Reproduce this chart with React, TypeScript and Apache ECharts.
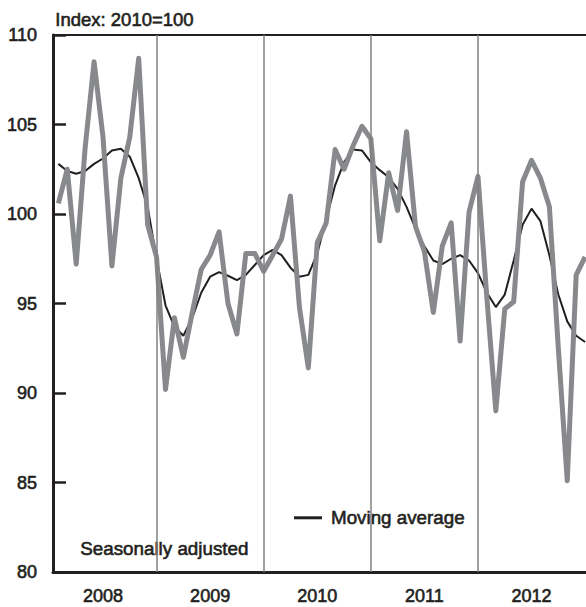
import React, { useEffect, useRef } from "react";
import * as echarts from "echarts";

// Monthly index, Jan 2008 .. Dec 2012 (2010 = 100)
const years = ["2008", "2009", "2010", "2011", "2012"];

const seasonallyAdjusted = [
  100.6, 102.5, 97.2, 103.7, 108.5, 104.3, 97.1, 102.0, 104.3, 108.7, 99.4, 97.6,
  90.2, 94.2, 92.0, 94.5, 96.9, 97.7, 99.0, 95.0, 93.3, 97.8, 97.8, 96.8,
  97.7, 98.6, 101.0, 94.8, 91.4, 98.4, 99.5, 103.6, 102.5, 103.8, 104.9, 104.2,
  98.5, 102.3, 100.2, 104.6, 99.3, 97.9, 94.5, 98.2, 99.5, 92.9, 100.1, 102.1,
  95.3, 89.0, 94.7, 95.1, 101.8, 103.0, 102.0, 100.4, 92.5, 85.1, 96.6, 97.6,
];

const movingAverage = [
  102.8, 102.4, 102.25, 102.4, 102.8, 103.1, 103.55, 103.65, 103.2, 102.0, 100.4, 97.5,
  94.9, 93.7, 93.2, 94.2, 95.6, 96.5, 96.75, 96.55, 96.3, 96.6, 97.15, 97.7,
  98.0, 97.7, 97.0, 96.5, 96.6, 97.8, 99.7, 101.6, 102.9, 103.6, 103.55, 102.9,
  102.45, 102.05, 101.4, 100.4, 99.2, 98.2, 97.4, 97.2, 97.5, 97.7, 97.4, 96.7,
  95.6, 94.8, 95.5, 97.4, 99.4, 100.3, 99.6, 97.7, 95.5, 94.0, 93.2, 92.85,
];

const yMin = 80;
const yMax = 110;
const yInterval = 5;

const yearEnds = [12, 24, 36, 48];
const yearMids = [6, 18, 30, 42, 54];

const FONT = "'Liberation Sans', Arial, Helvetica, sans-serif";
const INK = "#231f20";
const GRAY = "#88898c";
const TEXT_STROKE = 0.6;

export default function App() {
  const ref = useRef<HTMLDivElement>(null);

  useEffect(() => {
    if (!ref.current) return;
    const chart = echarts.init(ref.current, null, { renderer: "svg" });
    const toXY = (arr: number[]) => arr.map((v, i) => [i + 1, v]);
    const txt = {
      fontSize: 18,
      color: INK,
      fontFamily: FONT,
      textBorderColor: INK,
      textBorderWidth: TEXT_STROKE,
    };

    chart.setOption({
      animation: false,
      textStyle: { fontFamily: FONT },
      grid: { left: 53, right: 0, top: 35, bottom: 35, containLabel: false },
      xAxis: [
        {
          type: "value",
          min: 0.4,
          max: 60.1,
          axisLine: { show: true, onZero: false, lineStyle: { color: INK, width: 3 } },
          axisTick: { show: false },
          splitLine: { show: false },
          axisLabel: {
            customValues: yearMids,
            formatter: (v: number) => years[Math.round((v - 6) / 12)],
            margin: 15,
            ...txt,
          },
        },
        {
          type: "value",
          position: "top",
          min: 0.4,
          max: 60.1,
          axisLine: { show: true, onZero: false, lineStyle: { color: INK, width: 2 } },
          axisTick: { show: false },
          axisLabel: { show: false },
          splitLine: { show: false },
        },
      ],
      yAxis: {
        type: "value",
        min: yMin,
        max: yMax,
        interval: yInterval,
        axisLine: { show: true, lineStyle: { color: INK, width: 3 } },
        axisTick: { show: true, inside: true, length: 13, lineStyle: { color: INK, width: 2.5 } },
        splitLine: { show: false },
        axisLabel: { margin: 16, ...txt },
      },
      legend: {
        data: [{ name: "Moving average", icon: "rect" }],
        left: 289,
        top: 504,
        itemWidth: 28,
        itemHeight: 3,
        padding: [4, 6, 4, 5],
        backgroundColor: "#ffffff",
        selectedMode: false,
        textStyle: { ...txt, fontSize: 18.8, padding: [0, 0, 0, 4] },
      },
      graphic: [
        {
          type: "text",
          left: 55,
          top: 10,
          style: {
            text: "Index: 2010=100",
            fontSize: 18.5,
            fill: INK,
            fontFamily: FONT,
            stroke: INK,
            lineWidth: TEXT_STROKE,
          },
        },
        {
          type: "text",
          left: 80,
          top: 539,
          style: {
            text: "Seasonally adjusted",
            fontSize: 18.8,
            fill: INK,
            fontFamily: FONT,
            stroke: INK,
            lineWidth: TEXT_STROKE,
          },
        },
      ],
      series: [
        {
          name: "Moving average",
          type: "line",
          data: toXY(movingAverage),
          color: INK,
          showSymbol: false,
          symbol: "none",
          lineStyle: { color: INK, width: 2 },
          markLine: {
            silent: true,
            symbol: "none",
            label: { show: false },
            lineStyle: { color: "#808080", width: 1.5, type: "solid" },
            data: yearEnds.map((x) => ({ xAxis: x })),
          },
        },
        {
          name: "Seasonally adjusted",
          type: "line",
          data: toXY(seasonallyAdjusted),
          color: GRAY,
          showSymbol: false,
          symbol: "none",
          lineStyle: { color: GRAY, width: 5, join: "round" },
        },
      ],
    });
    return () => chart.dispose();
  }, []);

  return (
    <div
      ref={ref}
      style={{ position: "absolute", left: 0, top: 0, width: 586, height: 607 }}
    />
  );
}
